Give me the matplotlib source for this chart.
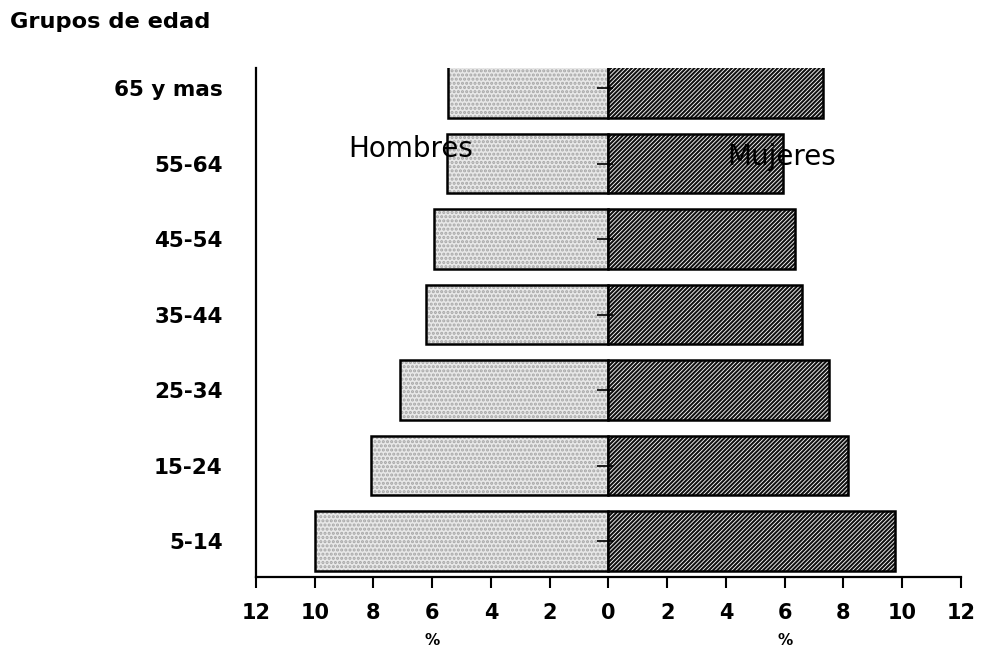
import matplotlib
matplotlib.use("Agg")
import matplotlib.pyplot as plt
import numpy as np

# age groups, bottom to top
grupos = ["5-14", "15-24", "25-34", "35-44", "45-54", "55-64", "65 y mas"]
hombres = [10.0, 8.1, 7.1, 6.2, 5.95, 5.5, 5.45]
mujeres = [9.75, 8.15, 7.5, 6.6, 6.35, 5.95, 7.3]
xticks = [-12, -10, -8, -6, -4, -2, 0, 2, 4, 6, 8, 10, 12]

plt.rcParams["font.family"] = ["DejaVu Sans"]
plt.rcParams["hatch.linewidth"] = 1.5

fig = plt.figure(figsize=(9.83, 6.52), dpi=100)
ax = fig.add_axes([0.2604, 0.115, 0.7172, 0.7807])

ypos = np.arange(len(grupos))
bar_h = 0.79

# men: light stippled bars to the left
ax.barh(ypos, [-v for v in hombres], height=bar_h, color="#e8e8e8",
        hatch="....", edgecolor="#a6a6a6", linewidth=0)
ax.barh(ypos, [-v for v in hombres], height=bar_h, fill=False,
        edgecolor="black", linewidth=1.8)

# women: dark hatched bars to the right
ax.barh(ypos, mujeres, height=bar_h, color="white",
        hatch="////////", edgecolor="#111111", linewidth=0)
ax.barh(ypos, mujeres, height=bar_h, fill=False,
        edgecolor="black", linewidth=1.8)

# little marks on the centre line
ax.hlines(ypos, -0.4, 0.15, color="black", linewidth=1.2)

ax.set_xlim(-12, 12)
ax.set_ylim(-0.477, 6.265)
ax.set_xticks(xticks)
ax.set_xticklabels([str(abs(t)) for t in xticks], fontsize=15, fontweight="bold")
ax.set_yticks(ypos)
ax.set_yticklabels(grupos, fontsize=15.5, fontweight="bold")
ax.tick_params(axis="y", length=0, pad=24)
ax.tick_params(axis="x", direction="out", length=8, width=1.5, pad=11)

for side in ["top", "right"]:
    ax.spines[side].set_visible(False)
for side in ["left", "bottom"]:
    ax.spines[side].set_linewidth(1.6)

ax.text(-6, -1.32, "%", ha="center", va="center", fontsize=11,
        fontweight="bold")
ax.text(6, -1.32, "%", ha="center", va="center", fontsize=11,
        fontweight="bold")

ax.text(-8.85, 5.19, "Hombres", fontsize=20, ha="left", va="center")
ax.text(4.05, 5.08, "Mujeres", fontsize=20, ha="left", va="center")

fig.text(0.010, 0.966, "Grupos de edad", fontsize=16.2, fontweight="bold",
         ha="left", va="center")

fig.savefig("out.png", dpi=100)
